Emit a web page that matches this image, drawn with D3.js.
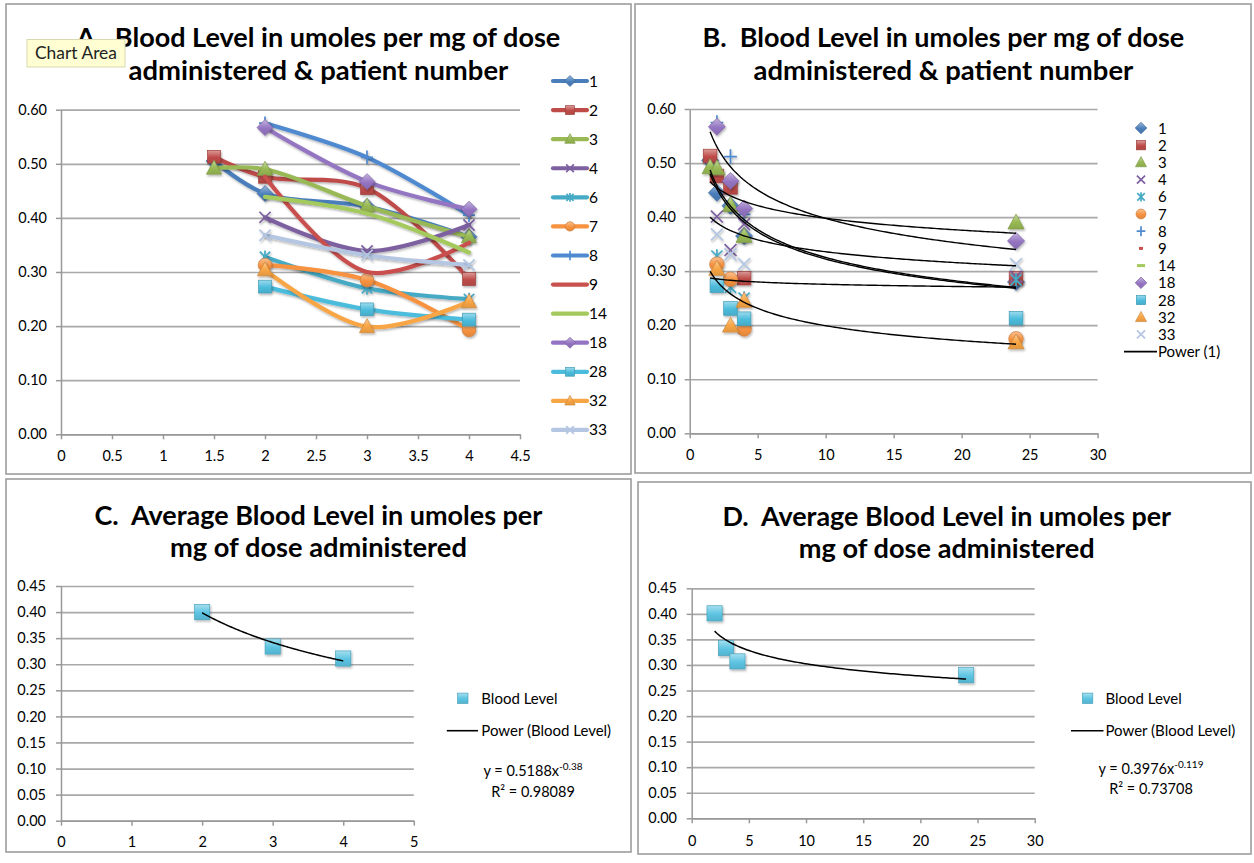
<!DOCTYPE html>
<html><head><meta charset="utf-8">
<script src="https://cdn.jsdelivr.net/npm/d3@7"></script>
<style>
body{margin:0;background:#fff;}
svg{display:block;font-family:Lato,"Open Sans",sans-serif;}
</style></head><body>
<svg id="c" width="1254" height="863"></svg>
<script>
// ---------------- DATA ----------------
const patients = ["1","2","3","4","6","7","8","9","14","18","28","32","33"];
const seriesColors = ["#4a7ebb","#be4b48","#98b954","#7d60a0","#46aac5","#f69240","#4f8ad0","#c8504d","#a4c95c","#9474c2","#4cbcdc","#f8a545","#b4c6e2"];
const markerShapes = ["diamond","square","triangle","x","star","circle","plus","dash","longdash","diamond","square","triangle","x"];
const hoursA = [1.5, 2, 3, 4];
const hoursB = [1.5, 2, 3, 4, 24];
// blood level per patient at hoursB (A uses the first four)
const p1  = [0.505, 0.445, 0.421, 0.365, 0.280];
const p2  = [0.513, 0.476, 0.455, 0.287, 0.287];
const p3  = [0.492, 0.490, 0.422, 0.365, 0.390];
const p4  = [null, 0.401, 0.339, 0.387, 0.290];
const p6  = [null, 0.328, 0.270, 0.250, 0.284];
const p7  = [null, 0.313, 0.285, 0.193, 0.175];
const p8  = [null, 0.575, 0.512, 0.405, null];
const p9  = [null, 0.476, 0.300, 0.354, 0.322];
const p14 = [null, 0.439, 0.408, 0.336, 0.340];
const p18 = [null, 0.567, 0.467, 0.416, 0.356];
const p28 = [null, 0.273, 0.231, 0.212, 0.213];
const p32 = [null, 0.304, 0.199, 0.245, 0.168];
const p33 = [null, 0.368, 0.331, 0.313, 0.313];
const levels = [p1,p2,p3,p4,p6,p7,p8,p9,p14,p18,p28,p32,p33];
// power trendlines of panel B, y = a*x^b
const trendCoefA = [0.600, 0.481, 0.531, 0.523, 0.415, 0.290, 0.327];
const trendCoefB = [-0.1787, -0.0824, -0.2128, -0.2102, -0.0919, -0.022, -0.2156];
const trendRangeB = [1.5, 24];
// averages
const avgHoursC = [2, 3, 4];
const avgLevelC = [0.400, 0.334, 0.311];
const avgHoursD = [2, 3, 4, 24];
const avgLevelD = [0.401, 0.333, 0.307, 0.280];
const fitC = {a: 0.5188, b: -0.38, r2: "0.98089", exp: "-0.38"};
const fitD = {a: 0.3976, b: -0.119, r2: "0.73708", exp: "-0.119"};
// ticks
const yTicksAB = [0, 0.1, 0.2, 0.3, 0.4, 0.5, 0.6];
const yTicksCD = [0, 0.05, 0.1, 0.15, 0.2, 0.25, 0.3, 0.35, 0.4, 0.45];
const xTicksA = [0, 0.5, 1, 1.5, 2, 2.5, 3, 3.5, 4, 4.5];
const xTicksB = [0, 5, 10, 15, 20, 25, 30];
const xTicksC = [0, 1, 2, 3, 4, 5];
const xTicksD = [0, 5, 10, 15, 20, 25, 30];
const titleA = ["A.  Blood Level in umoles per mg of dose", "administered & patient number"];
const titleB = ["B.  Blood Level in umoles per mg of dose", "administered & patient number"];
const titleC = ["C.  Average Blood Level in umoles per", "mg of dose administered"];
const titleD = ["D.  Average Blood Level in umoles per", "mg of dose administered"];
const avgName = "Blood Level";
const avgColor = "#5cc4e2";

// ---------------- DRAWING ----------------
const svg = d3.select("#c");
const defs = svg.append("defs");
const flt = defs.append("filter").attr("id","sh").attr("x","-50%").attr("y","-50%").attr("width","200%").attr("height","200%");
flt.append("feDropShadow").attr("dx",1).attr("dy",1.6).attr("stdDeviation",1.3).attr("flood-color","#000").attr("flood-opacity",0.3);

function grad(id, color){
  const g = defs.append("linearGradient").attr("id",id).attr("x1",0).attr("y1",0).attr("x2",0).attr("y2",1);
  g.append("stop").attr("offset","0%").attr("stop-color", d3.interpolateRgb(color,"#ffffff")(0.45));
  g.append("stop").attr("offset","55%").attr("stop-color", color);
  g.append("stop").attr("offset","100%").attr("stop-color", d3.color(color).darker(0.25));
}
seriesColors.forEach((c,i)=>grad("g"+i,c));
grad("gavg", avgColor);

function marker(g, shape, color, s, gid){
  const dark = d3.color(color).darker(0.5).formatHex();
  const fill = `url(#${gid})`;
  switch(shape){
    case "diamond": g.append("path").attr("d",`M0,${-s}L${s},0L0,${s}L${-s},0Z`).attr("fill",fill).attr("stroke",dark).attr("stroke-width",0.7); break;
    case "square": g.append("rect").attr("x",-s*0.8).attr("y",-s*0.8).attr("width",s*1.6).attr("height",s*1.6).attr("fill",fill).attr("stroke",dark).attr("stroke-width",0.7); break;
    case "triangle": g.append("path").attr("d",`M0,${-s}L${s*0.95},${s*0.75}L${-s*0.95},${s*0.75}Z`).attr("fill",fill).attr("stroke",dark).attr("stroke-width",0.7); break;
    case "circle": g.append("circle").attr("r",s*0.85).attr("fill",fill).attr("stroke",dark).attr("stroke-width",0.7); break;
    case "x": g.append("path").attr("d",`M${-s*0.7},${-s*0.7}L${s*0.7},${s*0.7}M${s*0.7},${-s*0.7}L${-s*0.7},${s*0.7}`).attr("stroke",color).attr("stroke-width",1.7).attr("fill","none"); break;
    case "star": g.append("path").attr("d",`M${-s*0.65},${-s*0.65}L${s*0.65},${s*0.65}M${s*0.65},${-s*0.65}L${-s*0.65},${s*0.65}M0,${-s*0.8}L0,${s*0.8}`).attr("stroke",color).attr("stroke-width",1.7).attr("fill","none"); break;
    case "plus": g.append("path").attr("d",`M${-s*0.75},0L${s*0.75},0M0,${-s*0.85}L0,${s*0.85}`).attr("stroke",color).attr("stroke-width",1.7).attr("fill","none"); break;
    case "dash": g.append("path").attr("d",`M${-s*0.35},0L${s*0.35},0`).attr("stroke",color).attr("stroke-width",3).attr("fill","none"); break;
    case "longdash": g.append("path").attr("d",`M${-s*0.7},0L${s*0.7},0`).attr("stroke",color).attr("stroke-width",3).attr("fill","none"); break;
  }
}

function fit(sel, w){
  const L = sel.node().getComputedTextLength();
  const fs = parseFloat(sel.attr("font-size"));
  sel.attr("font-size", fs * w / L);
}

// frames
[[6,4,625,470],[635,4,616,469],[6,479,625,373],[638,482,613,372]].forEach(f=>{
  svg.append("rect").attr("x",f[0]).attr("y",f[1]).attr("width",f[2]).attr("height",f[3])
    .attr("fill","#fff").attr("stroke","#9d9d9d").attr("stroke-width",1.6);
});

function panel(cfg){
  const x = d3.scaleLinear().domain(cfg.xd).range([cfg.x0, cfg.x1]);
  const y = d3.scaleLinear().domain(cfg.yd).range([cfg.y0, cfg.y1]);
  // grid
  const grid = svg.append("g").attr("transform",`translate(${cfg.x0},0)`)
    .call(d3.axisLeft(y).tickValues(cfg.yt).tickSize(-(cfg.x1-cfg.x0)).tickFormat(""));
  grid.select(".domain").remove();
  grid.selectAll("line").attr("stroke","#a9a9a9").attr("stroke-width",1.7);
  // y axis
  const ya = svg.append("g").attr("transform",`translate(${cfg.x0},0)`)
    .call(d3.axisLeft(y).tickValues(cfg.yt).tickSize(5).tickSizeOuter(0).tickPadding(cfg.x0-cfg.labelRight-5).tickFormat(d3.format(".2f")));
  ya.select(".domain").attr("stroke","#999").attr("stroke-width",1.5);
  ya.selectAll("line").attr("stroke","#999").attr("stroke-width",1.5);
  ya.selectAll("text").attr("font-family","Lato").attr("font-size",14.5).attr("fill","#000");
  // x axis
  const xa = svg.append("g").attr("transform",`translate(0,${cfg.y0})`)
    .call(d3.axisBottom(x).tickValues(cfg.xt).tickSize(5).tickSizeOuter(0).tickFormat(d=>String(d)));
  xa.select(".domain").attr("stroke","#999").attr("stroke-width",1.5);
  xa.selectAll("line").attr("stroke","#999").attr("stroke-width",1.5);
  xa.selectAll("text").attr("font-family","Lato").attr("font-size",14.5).attr("fill","#000")
    .attr("y", cfg.xBase - cfg.y0).attr("dy",0);
  // title
  cfg.title.forEach((t,i)=>{
    const tt = svg.append("text").attr("x",cfg.tc).attr("y",cfg.tb[i]).attr("text-anchor","middle")
      .attr("font-family","Lato").attr("font-weight","bold").attr("font-size",26).attr("fill","#000")
      .style("white-space","pre").text(t);
    fit(tt, cfg.tw[i]);
  });
  return {x, y};
}

// ----- Panel A -----
const A = panel({x0:61,x1:520,y0:434.3,y1:109.7,xd:[0,4.5],yd:[0,0.6],xt:xTicksA,yt:yTicksAB,labelRight:47,xBase:461,
  title:titleA, tc:318.4, tb:[46.7,79.5], tw:[484,380]});
const lineA = d3.line().defined(d=>d[1]!=null).x(d=>A.x(d[0])).y(d=>A.y(d[1])).curve(d3.curveCatmullRom.alpha(0.5));
const gA = svg.append("g");
levels.forEach((vals,i)=>{
  const pts = hoursA.map((h,j)=>[h, vals[j]]).filter(d=>d[1]!=null);
  gA.append("path").attr("d", lineA(pts)).attr("fill","none").attr("stroke",seriesColors[i])
    .attr("stroke-width",4.2).attr("stroke-linecap","round").attr("filter","url(#sh)");
  pts.forEach(d=>{
    const m = gA.append("g").attr("transform",`translate(${A.x(d[0])},${A.y(d[1])})`).attr("filter","url(#sh)");
    marker(m, markerShapes[i], seriesColors[i], 8, "g"+i);
  });
});
// legend A
patients.forEach((p,i)=>{
  const yy = 81 + i*29.08;
  svg.append("line").attr("x1",553).attr("x2",587).attr("y1",yy).attr("y2",yy)
    .attr("stroke",seriesColors[i]).attr("stroke-width",4.2).attr("stroke-linecap","round");
  const m = svg.append("g").attr("transform",`translate(570,${yy})`);
  if (markerShapes[i]!=="dash" && markerShapes[i]!=="longdash") marker(m, markerShapes[i], seriesColors[i], 5.5, "g"+i);
  svg.append("text").attr("x",589).attr("y",yy+5.5).attr("font-size",15.5).attr("fill","#000").text(p);
});

// ----- Panel B -----
const B = panel({x0:689.7,x1:1097.6,y0:433.3,y1:109,xd:[0,30],yd:[0,0.6],xt:xTicksB,yt:yTicksAB,labelRight:676,xBase:460,
  title:titleB, tc:943.4, tb:[46.7,79.5], tw:[482,380]});
const gB = svg.append("g");
levels.forEach((vals,i)=>{
  hoursB.forEach((h,j)=>{
    if (vals[j]==null) return;
    const m = gB.append("g").attr("transform",`translate(${B.x(h)},${B.y(vals[j])})`).attr("filter","url(#sh)");
    marker(m, markerShapes[i], seriesColors[i], 8.5, "g"+i);
  });
});
const trendLineB = d3.line().x(d=>B.x(d[0])).y(d=>B.y(d[1]));
const trendXs = d3.range(0,121).map(k=>trendRangeB[0] + k*(trendRangeB[1]-trendRangeB[0])/120);
trendCoefA.forEach((a,k)=>{
  const b = trendCoefB[k];
  gB.append("path").attr("d", trendLineB(trendXs.map(xv=>[xv, a*Math.pow(xv,b)])))
    .attr("fill","none").attr("stroke","#000").attr("stroke-width",1.4);
});
patients.forEach((p,i)=>{
  const yy = 128 + i*17.2;
  const m = svg.append("g").attr("transform",`translate(1141,${yy})`);
  marker(m, markerShapes[i], seriesColors[i], 5.8, "g"+i);
  svg.append("text").attr("x",1158).attr("y",yy+5.5).attr("font-size",15).attr("fill","#000").text(p);
});
{
  const yy = 128 + 13*17.2;
  svg.append("line").attr("x1",1124).attr("x2",1157).attr("y1",yy).attr("y2",yy).attr("stroke","#000").attr("stroke-width",1.6);
  svg.append("text").attr("x",1158).attr("y",yy+5.5).attr("font-size",15).attr("fill","#000").text("Power (" + patients[0] + ")");
}

// ----- Panels C and D -----
function avgPanel(cfg, hrs, lv, fitp, leg){
  const P = panel(cfg);
  const g = svg.append("g");
  const xs = d3.range(0,101).map(k=>hrs[0] + k*(hrs[hrs.length-1]-hrs[0])/100);
  hrs.forEach((h,j)=>{
    const m = g.append("g").attr("transform",`translate(${P.x(h)},${P.y(lv[j])})`).attr("filter","url(#sh)");
    marker(m, "square", avgColor, 9.5, "gavg");
  });
  g.append("path").attr("d", d3.line().x(d=>P.x(d[0])).y(d=>P.y(d[1]))(xs.map(xv=>[xv, fitp.a*Math.pow(xv,fitp.b)])))
    .attr("fill","none").attr("stroke","#000").attr("stroke-width",1.5);
  // legend
  const m = svg.append("g").attr("transform",`translate(${leg.sx},698.3)`);
  marker(m, "square", avgColor, 6.5, "gavg");
  svg.append("text").attr("x",leg.tx).attr("y",703.5).attr("font-size",15).attr("fill","#000").text(avgName);
  svg.append("line").attr("x1",leg.lx0).attr("x2",leg.lx1).attr("y1",730.7).attr("y2",730.7).attr("stroke","#000").attr("stroke-width",1.6);
  svg.append("text").attr("x",leg.tx).attr("y",735.7).attr("font-size",15).attr("fill","#000").text("Power (" + avgName + ")");
  const eq = svg.append("text").attr("x",leg.ec).attr("y",leg.eb[0]).attr("text-anchor","middle").attr("font-size",14.5).attr("fill","#000");
  eq.append("tspan").text("y = " + fitp.a + "x");
  eq.append("tspan").attr("dy",-6).attr("font-size",10).text(fitp.exp);
  svg.append("text").attr("x",leg.ec).attr("y",leg.eb[1]).attr("text-anchor","middle").attr("font-size",14.5).attr("fill","#000")
    .text("R\u00b2 = " + fitp.r2);
}
avgPanel({x0:61,x1:413.8,y0:820.7,y1:586,xd:[0,5],yd:[0,0.45],xt:xTicksC,yt:yTicksCD,labelRight:46,xBase:847,
  title:titleC, tc:318.4, tb:[525,557], tw:[448,297]}, avgHoursC, avgLevelC, fitC,
  {sx:462.8, tx:481.3, lx0:446.8, lx1:478, ec:533, eb:[775.5,796.5]});
avgPanel({x0:691.7,x1:1034.7,y0:818.3,y1:588.3,xd:[0,30],yd:[0,0.45],xt:xTicksD,yt:yTicksCD,labelRight:677,xBase:846,
  title:titleD, tc:946.8, tb:[525.7,558], tw:[449,296]}, avgHoursD, avgLevelD, fitD,
  {sx:1087.6, tx:1105.5, lx0:1071, lx1:1103.5, ec:1151, eb:[774,793.5]});

// "Chart Area" tooltip
svg.append("rect").attr("x",27).attr("y",39.5).attr("width",98).attr("height",27.5)
  .attr("fill","#fefed2").attr("stroke","#d8d8b0").attr("stroke-width",1);
const tip = svg.append("text").attr("x",35).attr("y",59).attr("font-size",16).attr("fill","#222").text("Chart Area");
fit(tip, 82);
</script>
</body></html>
